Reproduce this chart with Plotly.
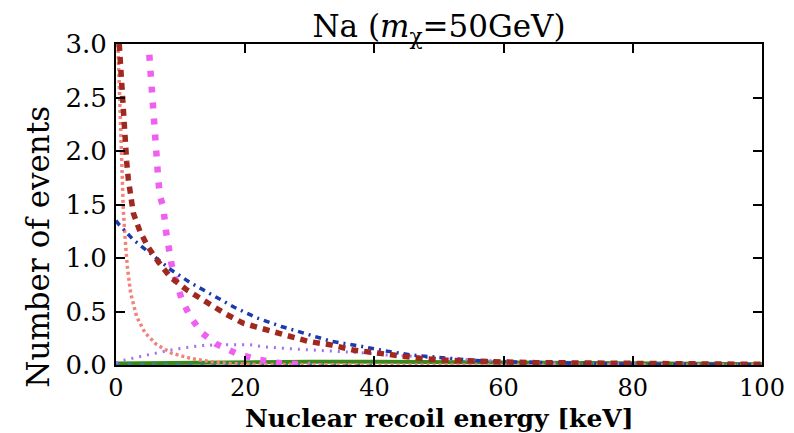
import plotly.graph_objects as go

# Light red dotted
E_lr = [0.3, 0.45, 0.6, 0.8, 1.0, 1.13, 1.39, 1.75, 2.27, 3.2, 4.5, 6.3, 8.6, 11.5, 14.5, 18, 22, 30, 40, 60, 100]
N_lr = [3.0, 2.7, 2.3, 1.9, 1.6, 1.45, 1.2, 0.92, 0.67, 0.45, 0.30, 0.19, 0.11, 0.063, 0.031, 0.012, 0.005, 0.002, 0.001, 0.0, 0.0]

# Dark red dashed
E_dr = [0.5, 0.62, 0.72, 0.88, 1.03, 1.24, 1.39, 1.65, 1.9, 2.27, 2.68, 3.7, 5.0, 6.55, 8.36, 11.0, 13.8, 16.9, 19.7, 23.0,
        26.2, 29.8, 33.1, 36.7, 40.1, 43.4, 47.1, 50.7, 54.3, 57.9, 65, 75, 85, 100]
N_dr = [3.0, 2.87, 2.71, 2.54, 2.38, 2.22, 2.06, 1.90, 1.74, 1.59, 1.42, 1.25, 1.10, 0.965, 0.825, 0.70, 0.59, 0.48, 0.39, 0.34,
        0.28, 0.22, 0.19, 0.14, 0.115, 0.084, 0.062, 0.047, 0.037, 0.031, 0.022, 0.015, 0.01, 0.006]

# Blue dash-dot
E_bl = [0, 0.36, 2.68, 5.5, 8.5, 11.5, 15.0, 18.3, 21.8, 25.6, 29.5, 33.4, 37.5, 41.5, 45.8, 49.9, 55, 60, 70, 80, 90, 100]
N_bl = [1.35, 1.32, 1.17, 1.03, 0.89, 0.77, 0.65, 0.54, 0.44, 0.36, 0.29, 0.22, 0.18, 0.134, 0.093, 0.068, 0.045, 0.03,
        0.015, 0.008, 0.005, 0.003]

# Magenta thick dotted
E_mg = [5.16, 5.37, 5.5, 5.7, 5.83, 6.1, 6.3, 6.55, 6.8, 7.3, 7.74, 8.1, 8.6, 9.3, 10.2, 11.5, 13.3, 15.5, 18.6, 21.8, 25, 30]
N_mg = [2.9, 2.71, 2.54, 2.38, 2.22, 2.06, 1.89, 1.73, 1.58, 1.48, 1.25, 1.09, 0.94, 0.78, 0.61, 0.45, 0.30, 0.196, 0.109,
        0.053, 0.02, 0.0]

# Purple thin dotted
E_pu = [0, 0.9, 5.3, 9.4, 13, 16, 20.7, 22.8, 27.4, 32.6, 37.8, 41.9, 45.5, 50, 60, 70, 80, 100]
N_pu = [0.02, 0.04, 0.10, 0.15, 0.18, 0.19, 0.19, 0.17, 0.15, 0.135, 0.115, 0.093, 0.084, 0.06, 0.035, 0.02, 0.012, 0.005]

# Green solid
E_gr = [0, 10, 20, 30, 40, 50, 60, 70, 80, 90, 100]
N_gr = [0.015, 0.022, 0.027, 0.03, 0.03, 0.028, 0.025, 0.02, 0.016, 0.012, 0.008]

# Teal dashed near zero
E_tl = [0, 5, 10, 15, 20, 30, 40]
N_tl = [0.01, 0.01, 0.009, 0.008, 0.006, 0.004, 0.002]

x_ticks = [0, 20, 40, 60, 80, 100]
y_ticks = [0.0, 0.5, 1.0, 1.5, 2.0, 2.5, 3.0]

FONT = "DejaVu Serif"

fig = go.Figure()
fig.add_trace(go.Scatter(x=E_gr, y=N_gr, mode="lines", line=dict(color="#3a8a1a", width=4)))
fig.add_trace(go.Scatter(x=E_tl, y=N_tl, mode="lines", line=dict(color="#2a8a9a", width=2, dash="4px,8px")))
fig.add_trace(go.Scatter(x=E_pu, y=N_pu, mode="lines", line=dict(color="#a070ee", width=3, dash="2px,6px")))
fig.add_trace(go.Scatter(x=E_lr, y=N_lr, mode="lines", line=dict(color="#f4827a", width=3.5, dash="3px,3px")))
fig.add_trace(go.Scatter(x=E_mg, y=N_mg, mode="lines", line=dict(color="#f060f0", width=6.5, dash="6px,10px")))
fig.add_trace(go.Scatter(x=E_bl, y=N_bl, mode="lines", line=dict(color="#1a3aae", width=3.5, dash="6px,5px,2px,5px")))
fig.add_trace(go.Scatter(x=E_dr, y=N_dr, mode="lines", line=dict(color="#a0281e", width=5.5, dash="7px,6px")))

axis_common = dict(
    showline=True, linecolor="black", linewidth=2, mirror="ticks",
    ticks="inside", tickcolor="black", tickwidth=2, ticklen=9,
    showgrid=False, zeroline=False, automargin=False,
)

fig.update_xaxes(range=[0, 100], tickvals=x_ticks, ticktext=[str(v) for v in x_ticks],
                 ticklabelstandoff=0, tickfont=dict(family=FONT, size=24, color="black"), **axis_common)
fig.update_yaxes(range=[0, 3.0], tickvals=y_ticks, ticktext=[f"{v:.1f}" for v in y_ticks],
                 ticklabelstandoff=2, tickfont=dict(family=FONT, size=26, color="black"), **axis_common)

fig.add_annotation(text="<b>Nuclear recoil energy [keV]</b>", xref="paper", yref="paper",
                   x=0.5, y=-0.166, xanchor="center", yanchor="middle", showarrow=False,
                   font=dict(family=FONT, size=25, color="black"))
fig.add_annotation(text="Number of events", textangle=-90, xref="paper", yref="paper",
                   x=-0.121, y=0.368, xanchor="center", yanchor="middle", showarrow=False,
                   font=dict(family=FONT, size=31, color="black"))

fig.update_layout(
    width=794, height=433,
    margin=dict(l=108, r=40, t=36, b=76),
    paper_bgcolor="white", plot_bgcolor="white",
    showlegend=False,
    title=dict(text="Na (<i>m</i><sub>χ</sub>=50GeV)", font=dict(family=FONT, size=31, color="black"),
               x=0.5, xref="paper", xanchor="center", y=0.958, yanchor="middle"),
)

fig.write_html("out.html")
